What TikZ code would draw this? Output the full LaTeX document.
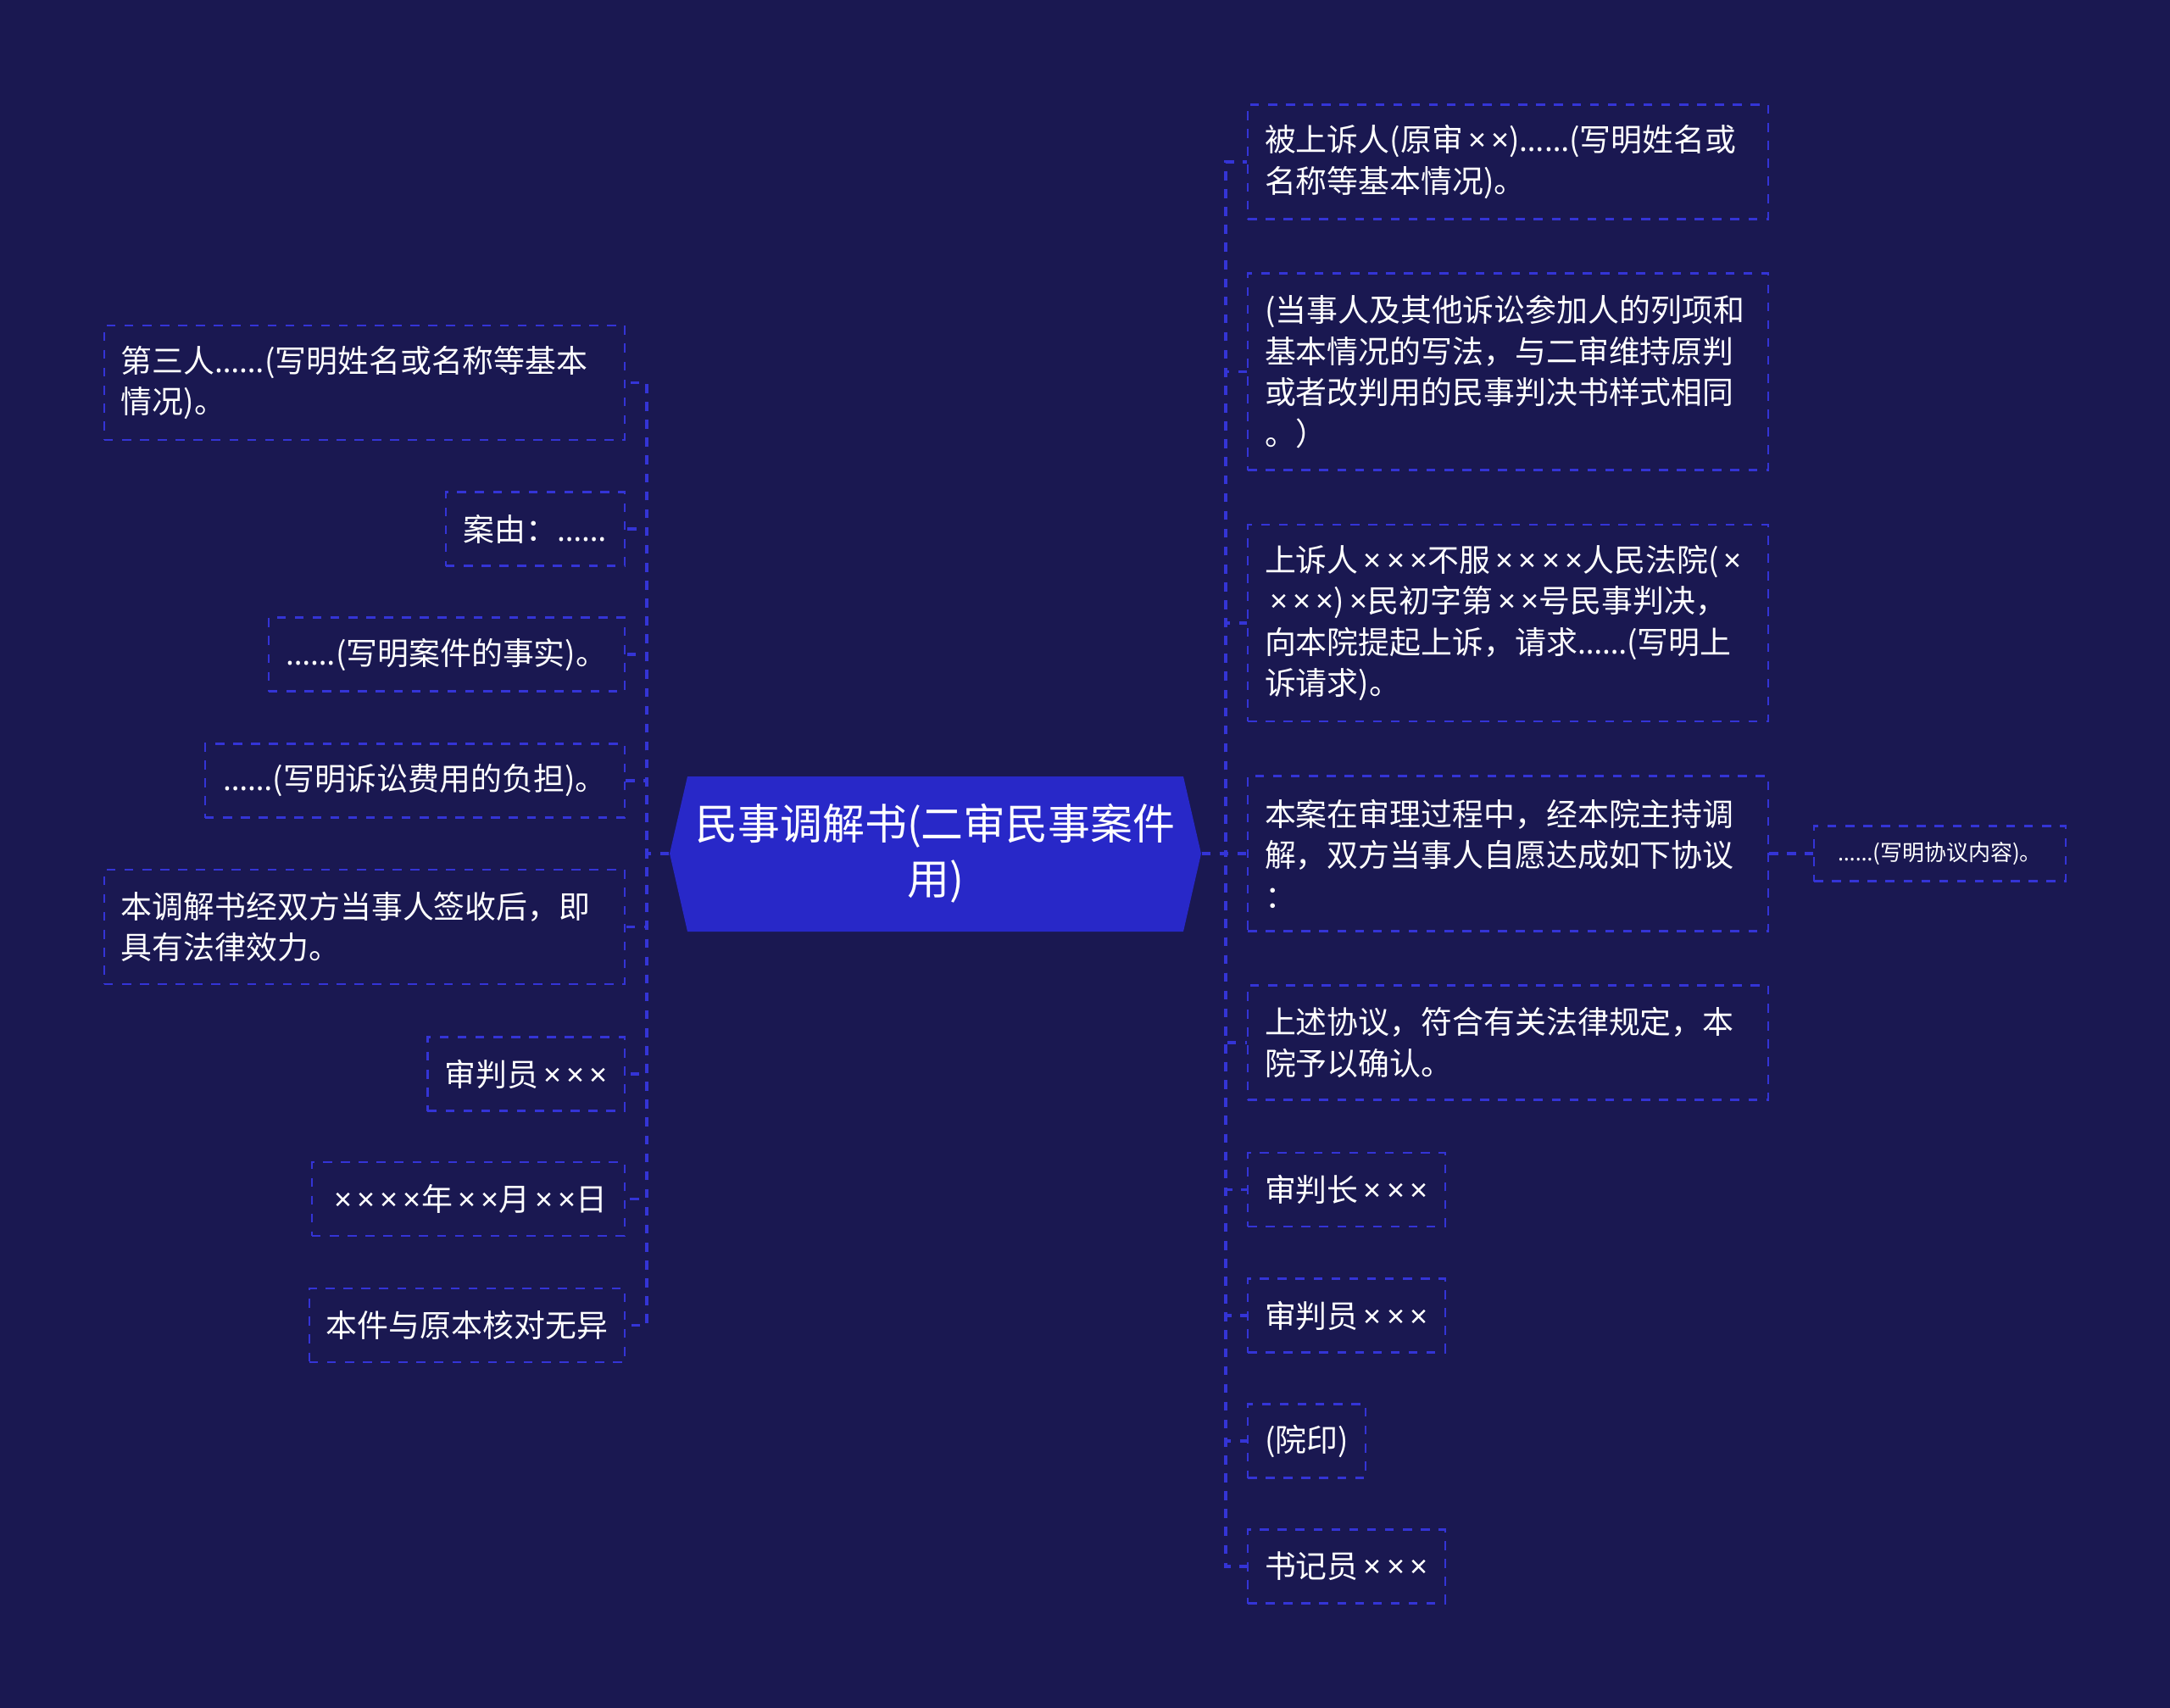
\documentclass[tikz,border=0pt]{standalone}
\usepackage{fontspec}
\usepackage{xcolor}
\usepackage{tikz}
\usetikzlibrary{positioning}
\setmainfont{Noto Sans CJK SC}
\newfontfamily\latinfont{Noto Sans}
\newcommand\elp{{\latinfont ……}}
\newcommand\tm{{\latinfont\,×}}
\definecolor{bgnavy}{HTML}{1A1851}
\definecolor{rootblue}{HTML}{2828C8}
\definecolor{linkblue}{HTML}{3434D6}
\tikzset{
  leaf/.style={draw=linkblue, dash pattern=on 3pt off 3pt, line width=0.6pt,
    text=white, font=\fontsize{10.5pt}{13.8pt}\selectfont,
    inner xsep=0.2cm, inner ysep=0.05cm, minimum height=0.87cm},
  wide/.style={leaf, text width=5.74cm, align=left},
  link/.style={draw=linkblue, dash pattern=on 3pt off 3pt, line width=1.1pt},
}

\begin{document}
\begin{tikzpicture}
\useasboundingbox (0,0) rectangle (25.6,-20.15);
\fill[bgnavy] (0,0) rectangle (25.6,-20.15);

% centre
\fill[rootblue] (7.90,-10.07) -- (8.11,-9.16) -- (13.96,-9.16) -- (14.17,-10.07)
  -- (13.96,-10.99) -- (8.11,-10.99) -- cycle;
\node[text=white, align=center, minimum width=6.27cm, minimum height=1.83cm,
  font=\fontsize{14.2pt}{18.5pt}\selectfont] (root) at (11.035,-10.07)
  {民事调解书(二审民事案件\\用)};

% right side
\node[wide, minimum height=1.35cm, anchor=west] (r1) at (14.71,-1.91)
  {被上诉人(原审\tm\tm)\elp(写明姓名或\\名称等基本情况)。};
\node[wide, minimum height=2.32cm, anchor=west] (r2) at (14.71,-4.385)
  {(当事人及其他诉讼参加人的列项和\\基本情况的写法，与二审维持原判\\或者改判用的民事判决书样式相同\\。）};
\node[wide, minimum height=2.32cm, anchor=west] (r3) at (14.71,-7.35)
  {上诉人\tm\tm\tm 不服\tm\tm\tm\tm 人民法院(\tm\\\tm\tm\tm)\tm 民初字第\tm\tm 号民事判决，\\向本院提起上诉，请求\elp(写明上\\诉请求)。};
\node[wide, minimum height=1.83cm, anchor=west] (r4) at (14.71,-10.07)
  {本案在审理过程中，经本院主持调\\解，双方当事人自愿达成如下协议\\：};
\node[wide, minimum height=1.35cm, anchor=west] (r5) at (14.71,-12.30)
  {上述协议，符合有关法律规定，本\\院予以确认。};
\node[leaf, minimum width=2.30cm, anchor=west] (r6) at (14.71,-14.035) {审判长\tm\tm\tm};
\node[leaf, minimum width=2.30cm, anchor=west] (r7) at (14.71,-15.52) {审判员\tm\tm\tm};
\node[leaf, minimum width=1.36cm, anchor=west] (r8) at (14.71,-17.00) {(院印)};
\node[leaf, minimum width=2.30cm, anchor=west] (r9) at (14.71,-18.48) {书记员\tm\tm\tm};
\node[leaf, minimum width=2.97cm, minimum height=0.65cm, inner xsep=0.1cm,
  font=\fontsize{7.4pt}{9pt}\selectfont, anchor=west] (sub) at (21.39,-10.07)
  {\elp(写明协议内容)。};

% left side
\node[wide, minimum height=1.35cm, anchor=east] (l1) at (7.38,-4.515)
  {第三人\elp(写明姓名或名称等基本\\情况)。};
\node[leaf, minimum width=2.11cm, anchor=east] (l2) at (7.38,-6.24) {案由：\elp};
\node[leaf, minimum width=4.20cm, anchor=east] (l3) at (7.38,-7.72) {\elp(写明案件的事实)。};
\node[leaf, minimum width=4.95cm, anchor=east] (l4) at (7.38,-9.21) {\elp(写明诉讼费用的负担)。};
\node[wide, minimum height=1.35cm, anchor=east] (l5) at (7.38,-10.935)
  {本调解书经双方当事人签收后，即\\具有法律效力。};
\node[leaf, minimum width=2.32cm, anchor=east] (l6) at (7.38,-12.67) {审判员\tm\tm\tm};
\node[leaf, minimum width=3.69cm, anchor=east] (l7) at (7.38,-14.145) {\tm\tm\tm\tm 年\tm\tm 月\tm\tm 日};
\node[leaf, minimum width=3.72cm, anchor=east] (l8) at (7.38,-15.635) {本件与原本核对无异};

% connectors
\foreach \n in {r1,r2,r3,r4,r5,r6,r7,r8,r9}
  \draw[link] (root.east) -- ++(0.28,0) |- (\n.west);
\foreach \n in {l1,l2,l3,l4,l5,l6,l7,l8}
  \draw[link] (root.west) -- ++(-0.26,0) |- (\n.east);
\draw[link] (r4.east) -- (sub.west);
\end{tikzpicture}
\end{document}
